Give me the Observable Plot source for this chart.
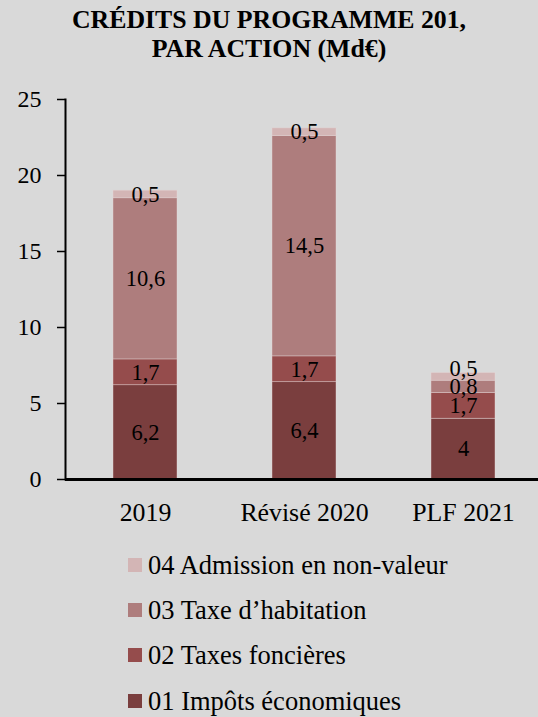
<!DOCTYPE html>
<html>
<head>
<meta charset="utf-8">
<script src="https://cdn.jsdelivr.net/npm/d3@7"></script>
<script src="https://cdn.jsdelivr.net/npm/@observablehq/plot@0.6"></script>
<style>
  html, body { margin: 0; padding: 0; background: #d9d9d9; width: 538px; height: 717px; overflow: hidden; }
  body { position: relative; font-family: "Liberation Serif", "Times New Roman", serif; color: #000; }
  #title { position: absolute; left: 0; top: 5px; width: 538px; text-align: center; font-weight: bold; font-size: 25.8px; line-height: 29px; }
  #chart { position: absolute; left: 0; top: 70px; }
  #legend { position: absolute; left: 128px; top: 0; }
  .row { position: absolute; left: 0; white-space: nowrap; font-size: 26.5px; display: flex; align-items: center; height: 30px; }
  .sw { width: 14px; height: 14px; margin-right: 6px; }
</style>
</head>
<body>
<div id="title">CRÉDITS DU PROGRAMME 201,<br>PAR ACTION (Md€)</div>
<div id="chart"></div>
<div id="legend"></div>
<script>
// Data
const periods = ["2019", "Révisé 2020", "PLF 2021"];
const actions = ["01 Impôts économiques", "02 Taxes foncières", "03 Taxe d’habitation", "04 Admission en non-valeur"];
const colors = ["#7a3e3e", "#954c4c", "#ae7d7d", "#d3b5b5"];
const impotsEconomiques = [6.2, 6.4, 4];
const taxesFoncieres = [1.7, 1.7, 1.7];
const taxeHabitation = [10.6, 14.5, 0.8];
const admissionNonValeur = [0.5, 0.5, 0.5];
const yTicks = [0, 5, 10, 15, 20, 25];

const seriesValues = [impotsEconomiques, taxesFoncieres, taxeHabitation, admissionNonValeur];
const rows = [];
actions.forEach((a, i) => periods.forEach((p, j) => rows.push({period: p, action: a, value: seriesValues[i][j]})));
const fmt = v => String(v).replace(".", ",");
// the small top label of the last bar is nudged up to reduce overlap, as in the reference
const nudged = d => d.period === periods[2] && d.action === actions[3];

const textOpts = {x: "period", y: "value", z: "action", order: actions, text: d => fmt(d.value), fontSize: 22.5, fill: "#000"};

const plot = Plot.plot({
  width: 538,
  height: 470,
  marginTop: 29,
  marginBottom: 61,
  marginLeft: 65,
  marginRight: 0,
  style: {background: "transparent", fontFamily: "Liberation Serif, Times New Roman, serif", color: "#000"},
  x: {domain: periods, range: [65, 542], paddingInner: 0.6, paddingOuter: 0.3, label: null},
  y: {domain: [0, 25], label: null},
  color: {domain: actions, range: colors},
  marks: [
    Plot.barY(rows, {x: "period", y: "value", fill: "action", z: "action", order: actions, stroke: "#e6d6d6", strokeWidth: 0.6, strokeOpacity: 0.7}),
    Plot.text(rows, Plot.filter(d => !nudged(d), Plot.stackY(textOpts))),
    Plot.text(rows, Plot.filter(nudged, Plot.stackY({...textOpts, dy: -8}))),
    Plot.axisY({ticks: yTicks, tickSize: 8, tickPadding: 16, fontSize: 24, strokeWidth: 1.5, tickFormat: d => String(d), label: null}),
    Plot.frame({anchor: "left", strokeWidth: 2}),
    Plot.ruleY([0], {strokeWidth: 3}),
    Plot.axisX({tickSize: 0, tickPadding: 23, fontSize: 25.8, label: null})
  ]
});
document.getElementById("chart").appendChild(plot);

// Legend (top to bottom: 04 .. 01)
const legendCenters = [565, 610, 655, 701];
const legend = document.getElementById("legend");
actions.slice().reverse().forEach((a, k) => {
  const row = document.createElement("div");
  row.className = "row";
  row.style.top = (legendCenters[k] - 15) + "px";
  const sw = document.createElement("span");
  sw.className = "sw";
  sw.style.background = colors[actions.length - 1 - k];
  const t = document.createElement("span");
  t.textContent = a;
  row.appendChild(sw);
  row.appendChild(t);
  legend.appendChild(row);
});
</script>
</body>
</html>
